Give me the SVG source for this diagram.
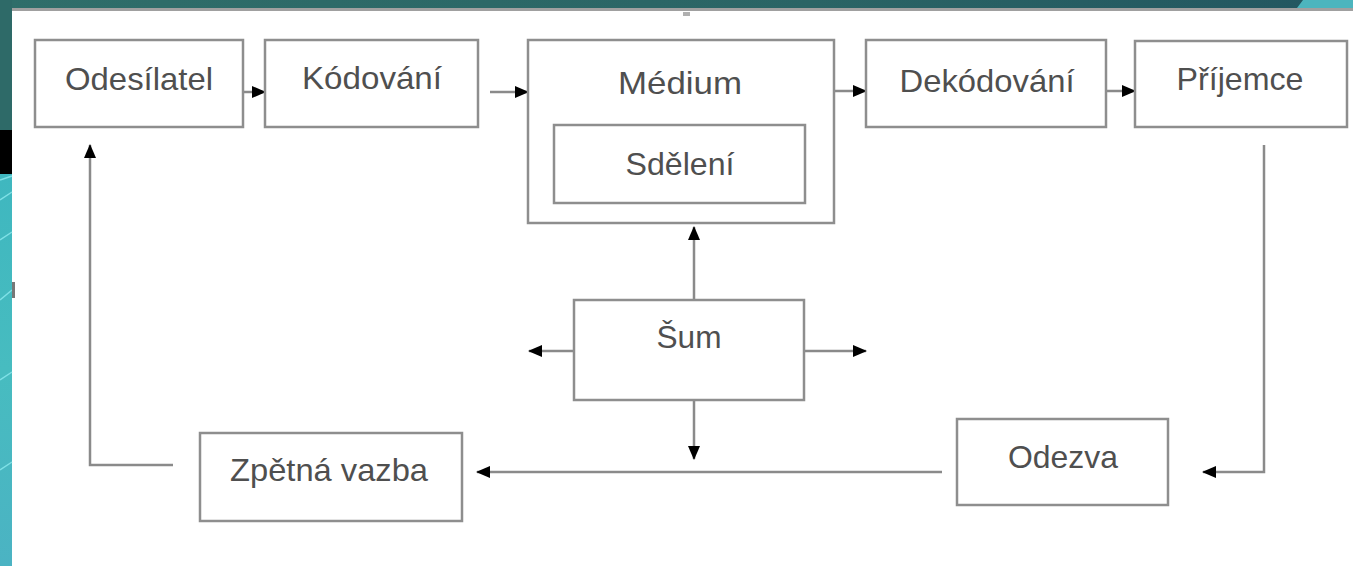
<svg xmlns="http://www.w3.org/2000/svg" width="1353" height="566" viewBox="0 0 1353 566">
<defs>
<style>
.box{fill:#fff;stroke:#8e8e8e;stroke-width:2.5}
.lbl{font-family:"Liberation Sans",Arial,sans-serif;font-size:32px;fill:#4f4f4f;text-anchor:middle}
.con{fill:none;stroke:#8a8a8a;stroke-width:2.5}
</style>
<marker id="ah" markerUnits="userSpaceOnUse" markerWidth="14" markerHeight="14" refX="13" refY="7" orient="auto">
<path d="M0,1 L14,7 L0,13 Z" fill="#000"/>
</marker>
<linearGradient id="topg" x1="0" y1="0" x2="1" y2="0">
<stop offset="0" stop-color="#2f6e6a"/>
<stop offset="0.6" stop-color="#2a6465"/>
<stop offset="1" stop-color="#225660"/>
</linearGradient>
<linearGradient id="cy" x1="0" y1="0" x2="0" y2="1">
<stop offset="0" stop-color="#3fb7bf"/>
<stop offset="0.5" stop-color="#47bcc0"/>
<stop offset="1" stop-color="#4bb3c3"/>
</linearGradient>
</defs>
<rect x="0" y="0" width="1353" height="566" fill="#fff"/>
<g id="frame">
<rect x="0" y="0" width="1353" height="8" fill="url(#topg)"/>
<polygon points="1303,0 1353,0 1353,8 1297,8" fill="#4cb5be"/>
<rect x="0" y="0" width="12" height="130" fill="#2e6a68"/>
<rect x="0" y="130" width="12" height="44" fill="#000"/>
<rect x="0" y="174" width="12" height="392" fill="url(#cy)"/>
<path d="M0,180 L12,176 M0,200 L12,192 M0,240 L12,232 M0,300 L12,290 M0,380 L12,372 M0,470 L12,462" stroke="#7fe0e6" stroke-width="1.5" fill="none"/>
<rect x="12" y="8" width="1341" height="3" fill="#a0a0a0"/>
<rect x="683" y="12" width="7" height="4" fill="#b0b0b0"/>
<rect x="12" y="282" width="3" height="16" fill="#777"/>
</g>
<g id="connectors">
<line class="con" x1="243" y1="92" x2="265" y2="92" marker-end="url(#ah)"/>
<line class="con" x1="490" y1="92" x2="528" y2="92" marker-end="url(#ah)"/>
<line class="con" x1="834" y1="91" x2="866" y2="91" marker-end="url(#ah)"/>
<line class="con" x1="1106" y1="91" x2="1135" y2="91" marker-end="url(#ah)"/>
<polyline class="con" points="1264,145 1264,472 1203,472" marker-end="url(#ah)"/>
<line class="con" x1="942" y1="472" x2="477" y2="472" marker-end="url(#ah)"/>
<polyline class="con" points="173,465 90,465 90,145" marker-end="url(#ah)"/>
<line class="con" x1="694" y1="300" x2="694" y2="227" marker-end="url(#ah)"/>
<line class="con" x1="694" y1="400" x2="694" y2="459" marker-end="url(#ah)"/>
<line class="con" x1="574" y1="351" x2="529" y2="351" marker-end="url(#ah)"/>
<line class="con" x1="804" y1="351" x2="866" y2="351" marker-end="url(#ah)"/>
</g>
<g id="odesilatel">
<rect class="box" x="35" y="40" width="208" height="87"/>
<text class="lbl" x="139" y="90" textLength="148" lengthAdjust="spacingAndGlyphs">Odesílatel</text>
</g>
<g id="kodovani">
<rect class="box" x="265" y="40" width="213" height="87"/>
<text class="lbl" x="372" y="89" textLength="140" lengthAdjust="spacingAndGlyphs">Kódování</text>
</g>
<g id="medium">
<rect class="box" x="528" y="40" width="306" height="183"/>
<text class="lbl" x="680" y="94" textLength="124" lengthAdjust="spacingAndGlyphs">Médium</text>
</g>
<g id="sdeleni">
<rect class="box" x="554" y="125" width="251" height="78"/>
<text class="lbl" x="680" y="175" textLength="109" lengthAdjust="spacingAndGlyphs">Sdělení</text>
</g>
<g id="dekodovani">
<rect class="box" x="866" y="40" width="240" height="87"/>
<text class="lbl" x="987" y="92" textLength="175" lengthAdjust="spacingAndGlyphs">Dekódování</text>
</g>
<g id="prijemce">
<rect class="box" x="1135" y="41" width="212" height="86"/>
<text class="lbl" x="1240" y="90" textLength="127" lengthAdjust="spacingAndGlyphs">Příjemce</text>
</g>
<g id="sum">
<rect class="box" x="574" y="300" width="230" height="100"/>
<text class="lbl" x="689" y="348" textLength="65" lengthAdjust="spacingAndGlyphs">Šum</text>
</g>
<g id="odezva">
<rect class="box" x="957" y="419" width="211" height="86"/>
<text class="lbl" x="1063" y="468" textLength="110" lengthAdjust="spacingAndGlyphs">Odezva</text>
</g>
<g id="zpetna-vazba">
<rect class="box" x="200" y="433" width="262" height="88"/>
<text class="lbl" x="329" y="481" textLength="198" lengthAdjust="spacingAndGlyphs">Zpětná vazba</text>
</g>
</svg>
